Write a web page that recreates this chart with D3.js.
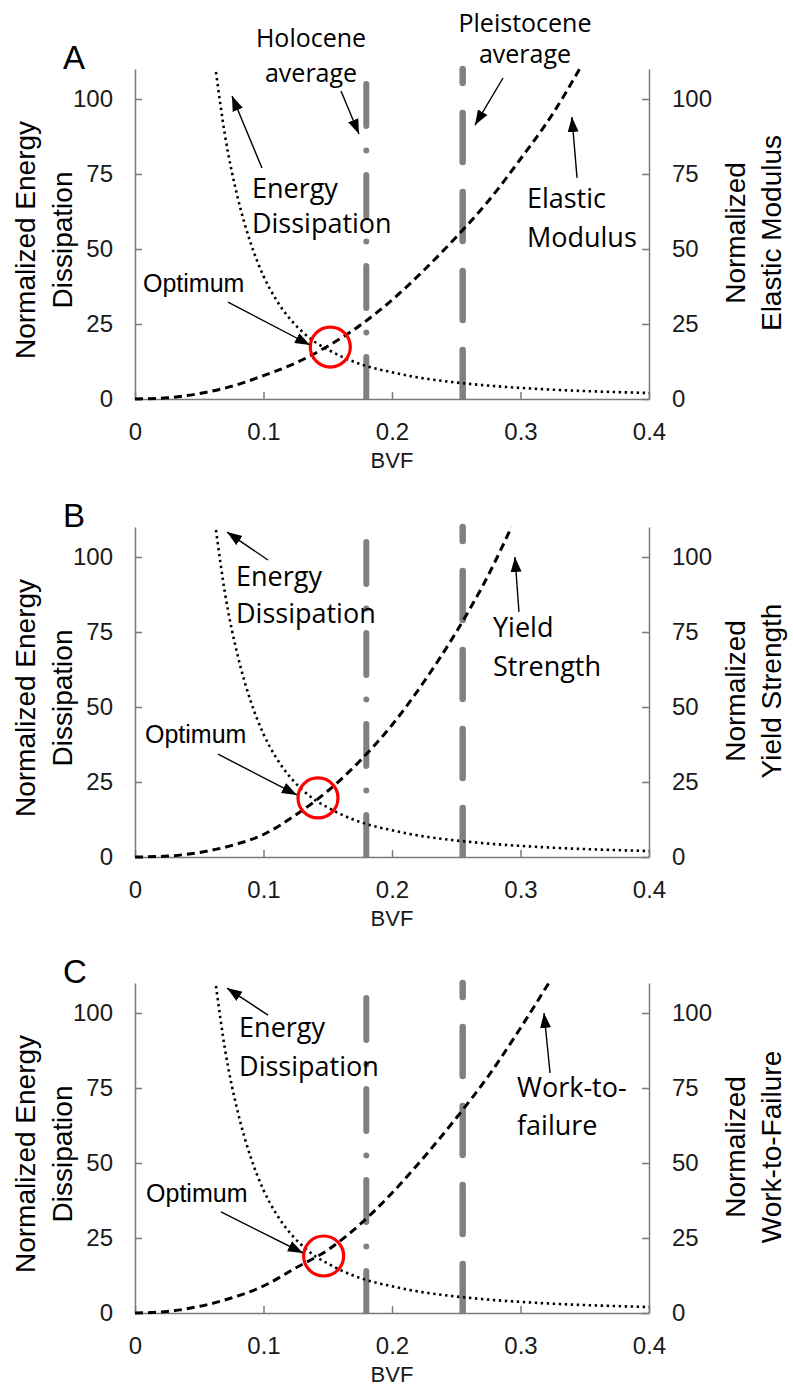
<!DOCTYPE html>
<html>
<head>
<meta charset="utf-8">
<title>BVF optimum</title>
<script src="https://cdn.jsdelivr.net/npm/d3@7"></script>
<style>
  body { margin: 0; background: #fff; }
</style>
</head>
<body>
<svg class="chart"></svg>
<script>
// ---- data ----
var bvfTicks = [0, 0.1, 0.2, 0.3, 0.4];
var bvfLabels = ["0", "0.1", "0.2", "0.3", "0.4"];
var normTicks = [0, 25, 50, 75, 100];
var normLabels = ["0", "25", "50", "75", "100"];

var energyBVF  = [0.063, 0.07, 0.08, 0.09, 0.1, 0.11, 0.12, 0.13, 0.14, 0.15, 0.16, 0.18, 0.2, 0.22, 0.25, 0.28, 0.3, 0.33, 0.36, 0.4];
var energyVals = [109, 88, 67, 52, 41, 33, 27, 22.5, 19, 16.5, 14.3, 11, 8.9, 7.2, 5.5, 4.3, 3.7, 3.0, 2.5, 2.0];

var modulusBVF  = [0, 0.025, 0.05, 0.075, 0.1, 0.125, 0.15, 0.175, 0.2, 0.225, 0.25, 0.275, 0.3, 0.325, 0.346];
var modulusVals = [0, 0.4, 1.8, 4.2, 7.8, 12, 17.6, 24.5, 33, 43, 54, 66, 80, 95, 110];

var yieldBVF  = [0, 0.025, 0.05, 0.075, 0.1, 0.125, 0.15, 0.175, 0.2, 0.225, 0.25, 0.275, 0.293];
var yieldVals = [0, 0.3, 1.5, 3.8, 7.5, 14, 22, 32, 44, 58.5, 75, 94, 110];

var workBVF  = [0, 0.025, 0.05, 0.075, 0.1, 0.125, 0.15, 0.175, 0.2, 0.225, 0.25, 0.275, 0.3, 0.322];
var workVals = [0, 0.5, 2.2, 5, 9, 15, 21, 29.5, 40, 52, 65, 79, 95, 110];

var holoceneBVF = 0.18;
var pleistoceneBVF = 0.255;

var optimumBVF = [0.152, 0.1424, 0.1468];
var optimumVal = [17.3, 19.7, 19];

var panelLabels = ["A", "B", "C"];
var rightTitles = [["Normalized", "Elastic Modulus"], ["Normalized", "Yield Strength"], ["Normalized", "Work-to-Failure"]];
var leftTitle = ["Normalized Energy", "Dissipation"];

// annotations, positioned in data units of each panel
var notes = [
  [
    {lines: ["Holocene", "average"], at: [0.137, 117.3], anchor: "middle", size: 25, lh: 35, cal: true},
    {lines: ["Pleistocene", "average"], at: [0.3035, 122.3], anchor: "middle", size: 25, lh: 31, cal: true},
    {lines: ["Energy", "Dissipation"], at: [0.091, 67], anchor: "start", size: 27, lh: 35, cal: true},
    {lines: ["Elastic", "Modulus"], at: [0.305, 63.7], anchor: "start", size: 27, lh: 39, cal: true},
    {lines: ["Optimum"], at: [0.0062, 35.7], anchor: "start", size: 25, lh: 0, cal: false}
  ],
  [
    {lines: ["Energy", "Dissipation"], at: [0.0786, 90.3], anchor: "start", size: 27, lh: 37, cal: true},
    {lines: ["Yield", "Strength"], at: [0.2786, 73.3], anchor: "start", size: 27, lh: 39, cal: true},
    {lines: ["Optimum"], at: [0.0078, 38], anchor: "start", size: 25, lh: 0, cal: false}
  ],
  [
    {lines: ["Energy", "Dissipation"], at: [0.081, 92], anchor: "start", size: 27, lh: 39, cal: true},
    {lines: ["Work-to-", "failure"], at: [0.2973, 72], anchor: "start", size: 27, lh: 38, cal: true},
    {lines: ["Optimum"], at: [0.0086, 37], anchor: "start", size: 25, lh: 0, cal: false}
  ]
];

var arrows = [
  [[[0.1603, 102.7], [0.1743, 88.3]], [[0.2864, 107], [0.2646, 91.3]], [[0.0988, 77], [0.0755, 101]],
   [[0.344, 73.7], [0.340, 94]], [[0.0724, 32.3], [0.1362, 18]]],
  [[[0.1035, 99], [0.0716, 108.3]], [[0.2988, 81.7], [0.2957, 100]], [[0.0646, 34.3], [0.126, 20.7]]],
  [[[0.1035, 99.3], [0.0716, 108.3]], [[0.323, 80], [0.3183, 100]], [[0.0669, 33.7], [0.1307, 20]]]
];

var propertyBVF = [modulusBVF, yieldBVF, workBVF];
var propertyVals = [modulusVals, yieldVals, workVals];

// ---- layout ----
var svgWidth = 793, svgHeight = 1393;
var plotLeft = 135, plotRight = 649, plotH = 330;
var panelBase = [399, 857, 1313];
var axisGray = "#7a7a7a";
var arialFont = "'Liberation Sans', Arial, sans-serif";
var calFont = "'Open Sans', 'Noto Sans', sans-serif";

var svg = d3.select(".chart")
  .attr("width", svgWidth)
  .attr("height", svgHeight)
  .style("background", "#fff");

svg.append("defs").append("marker")
  .attr("id", "head")
  .attr("markerUnits", "userSpaceOnUse")
  .attr("viewBox", "0 -6 15 12")
  .attr("refX", 15).attr("refY", 0)
  .attr("markerWidth", 15).attr("markerHeight", 12)
  .attr("orient", "auto")
  .append("path")
    .attr("d", "M0,-5.5L15,0L0,5.5Z")
    .attr("fill", "#000");

panelLabels.forEach(function (label, i) {
  var y0 = panelBase[i];
  var x = d3.scaleLinear().domain([0, 0.4]).range([plotLeft, plotRight]);
  var y = d3.scaleLinear().domain([0, 110]).range([y0, y0 - plotH]);
  var g = svg.append("g");

  var clipId = "clip" + i;
  svg.select("defs").append("clipPath").attr("id", clipId)
    .append("rect")
      .attr("x", plotLeft).attr("y", y(110) - 6)
      .attr("width", plotRight - plotLeft).attr("height", plotH + 7);

  // reference lines
  var refs = g.append("g").attr("clip-path", "url(#" + clipId + ")");
  refs.append("line")
    .attr("x1", x(holoceneBVF)).attr("x2", x(holoceneBVF))
    .attr("y1", y(0)).attr("y2", y(110))
    .attr("stroke", "#808080").attr("stroke-width", 6)
    .attr("stroke-linecap", "round")
    .attr("stroke-dasharray", "42 24.5 0 24.5");
  refs.append("line")
    .attr("x1", x(pleistoceneBVF)).attr("x2", x(pleistoceneBVF))
    .attr("y1", y(0)).attr("y2", y(110))
    .attr("stroke", "#808080").attr("stroke-width", 6.5)
    .attr("stroke-linecap", "round")
    .attr("stroke-dasharray", "49 30");

  // axes
  var xAxis = d3.axisBottom(x).tickValues(bvfTicks)
    .tickFormat(function (d, k) { return bvfLabels[k]; })
    .tickSizeInner(-7).tickSizeOuter(0).tickPadding(24);
  var yAxisL = d3.axisLeft(y).tickValues(normTicks)
    .tickFormat(function (d, k) { return normLabels[k]; })
    .tickSizeInner(-7).tickSizeOuter(0).tickPadding(22);
  var yAxisR = d3.axisRight(y).tickValues(normTicks)
    .tickFormat(function (d, k) { return normLabels[k]; })
    .tickSizeInner(-7).tickSizeOuter(0).tickPadding(23);

  g.append("g").attr("transform", "translate(0," + y0 + ")").call(xAxis);
  g.append("g").attr("transform", "translate(" + plotLeft + ",0)").call(yAxisL);
  g.append("g").attr("transform", "translate(" + plotRight + ",0)").call(yAxisR);

  g.selectAll(".domain, .tick line").attr("stroke", axisGray).attr("stroke-width", 1.5);
  g.selectAll(".tick text")
    .attr("fill", "#1a1a1a")
    .style("font-family", arialFont)
    .style("font-size", "24px");

  // curves
  var energyPts = energyBVF.map(function (b, k) { return [b, energyVals[k]]; });
  var propPts = propertyBVF[i].map(function (b, k) { return [b, propertyVals[i][k]]; });
  var line = d3.line()
    .x(function (d) { return x(d[0]); })
    .y(function (d) { return y(d[1]); })
    .curve(d3.curveMonotoneX);

  g.append("path").datum(energyPts)
    .attr("d", line).attr("fill", "none")
    .attr("stroke", "#000").attr("stroke-width", 2.6)
    .attr("stroke-dasharray", "2.4 3.6");
  g.append("path").datum(propPts)
    .attr("d", line).attr("fill", "none")
    .attr("stroke", "#000").attr("stroke-width", 3)
    .attr("stroke-dasharray", "8 5");

  // optimum circle
  g.append("circle")
    .attr("cx", x(optimumBVF[i])).attr("cy", y(optimumVal[i]))
    .attr("r", 20)
    .attr("fill", "none").attr("stroke", "#ff0000").attr("stroke-width", 3.2);

  // arrows
  arrows[i].forEach(function (a) {
    g.append("line")
      .attr("x1", x(a[0][0])).attr("y1", y(a[0][1]))
      .attr("x2", x(a[1][0])).attr("y2", y(a[1][1]))
      .attr("stroke", "#000").attr("stroke-width", 1.4)
      .attr("marker-end", "url(#head)");
  });

  // annotation text
  notes[i].forEach(function (n) {
    var t = g.append("text")
      .attr("x", x(n.at[0])).attr("y", y(n.at[1]))
      .attr("text-anchor", n.anchor)
      .style("font-family", n.cal ? calFont : arialFont)
      .style("font-size", n.size + "px")
      .attr("fill", "#000");
    n.lines.forEach(function (s, k) {
      t.append("tspan").attr("x", x(n.at[0])).attr("dy", k === 0 ? 0 : n.lh).text(s);
    });
  });

  // axis titles
  g.append("text")
    .attr("x", (plotLeft + plotRight) / 2).attr("y", y0 + 69)
    .attr("text-anchor", "middle")
    .style("font-family", arialFont).style("font-size", "22px")
    .attr("fill", "#1a1a1a")
    .text("BVF");

  var lt = g.append("text")
    .attr("transform", "translate(0," + (y0 - 159) + ") rotate(-90)")
    .attr("text-anchor", "middle")
    .style("font-family", arialFont).style("font-size", "28px")
    .attr("fill", "#000");
  leftTitle.forEach(function (s, k) {
    lt.append("tspan").attr("x", 0).attr("y", k === 0 ? 35 : 72).text(s);
  });

  var rt = g.append("text")
    .attr("transform", "translate(0," + (y0 - 166) + ") rotate(-90)")
    .attr("text-anchor", "middle")
    .style("font-family", arialFont).style("font-size", "28px")
    .attr("fill", "#000");
  rightTitles[i].forEach(function (s, k) {
    rt.append("tspan").attr("x", 0).attr("y", k === 0 ? 745 : 781).text(s);
  });

  // panel letter
  g.append("text")
    .attr("x", 63).attr("y", y(110))
    .style("font-family", arialFont).style("font-size", "33px")
    .attr("fill", "#000")
    .text(label);
});
</script>
</body>
</html>
